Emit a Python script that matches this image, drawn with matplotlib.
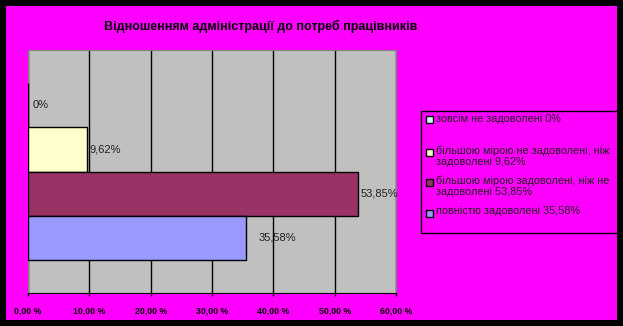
import matplotlib
matplotlib.use('Agg')
import matplotlib.pyplot as plt
from matplotlib.patches import Rectangle

# Data
labels = ['зовсім не задоволені 0%',
          'більшою мірою не задоволені, ніж\nзадоволені 9,62%',
          'більшою мірою задоволені, ніж не\nзадоволені 53,85%',
          'повністю задоволені 35,58%']
values = [0.0, 9.62, 53.85, 35.58]
value_text = ['0%', '9,62%', '53,85%', '35,58%']
colors = ['#CCFFFF', '#FFFFCC', '#993366', '#9999FF']
xticks = [0, 10, 20, 30, 40, 50, 60]
xtick_labels = ['0,00 %', '10,00 %', '20,00 %', '30,00 %', '40,00 %', '50,00 %', '60,00 %']
title = 'Відношенням адміністрації до потреб працівників'

W, H = 623, 326
plt.rcParams['font.family'] = ['Liberation Sans', 'DejaVu Sans']

def fx(px):
	return px / W

def fy(py):
	return 1 - py / H

fig = plt.figure(figsize=(W / 100, H / 100), dpi=100)
fig.patch.set_facecolor('#FF00FF')
fig.patch.set_edgecolor('black')
fig.patch.set_linewidth(7.5)

# Plot area
ax = fig.add_axes([fx(28), fy(293), fx(368), 243 / H])
ax.set_facecolor('#C0C0C0')
for s in ax.spines.values():
	s.set_color('#808080')
ax.spines['bottom'].set_color('black')

ypos = list(range(len(values)))
ax.barh(ypos, values, height=1.0, color=colors, edgecolor='black', linewidth=1, zorder=3)
ax.set_xlim(0, 60)
ax.set_ylim(4.26, -1.26)
ax.set_yticks([])
ax.set_xticks(xticks)
ax.set_xticklabels(xtick_labels, fontsize=6.3, fontweight='bold')
ax.tick_params(axis='x', direction='out', length=2.5, width=1, color='black', pad=7)
ax.grid(axis='x', color='black', linewidth=1, zorder=1)

# Data labels
offsets = [3, 1.5, 1.5, 9]
for y, v, t, o in zip(ypos, values, value_text, offsets):
	ax.annotate(t, xy=(v, y), xytext=(o, 0), textcoords='offset points',
				ha='left', va='center', fontsize=8, color='#202020', zorder=5)

# Title
fig.text(fx(261), fy(26), title, ha='center', va='center', fontsize=9, fontweight='bold')

# Legend (manual, to follow the original spacing)
fig.patches.append(Rectangle((fx(421), fy(233)), fx(197), 122 / H, transform=fig.transFigure,
							 facecolor='none', edgecolor='black', linewidth=1))
entry_y = [120, 152, 182, 213]
for lab, col, py in zip(labels, colors, entry_y):
	fig.patches.append(Rectangle((fx(426), fy(py + 3.5)), fx(7), 7 / H, transform=fig.transFigure,
								 facecolor=col, edgecolor='black', linewidth=1, zorder=5))
	fig.text(fx(436), fy(py - 6.5), lab, ha='left', va='top', fontsize=7.8,
			 color='#202020', linespacing=1.1)

plt.savefig('out.png', dpi=100, facecolor=fig.get_facecolor(), edgecolor=fig.get_edgecolor())
